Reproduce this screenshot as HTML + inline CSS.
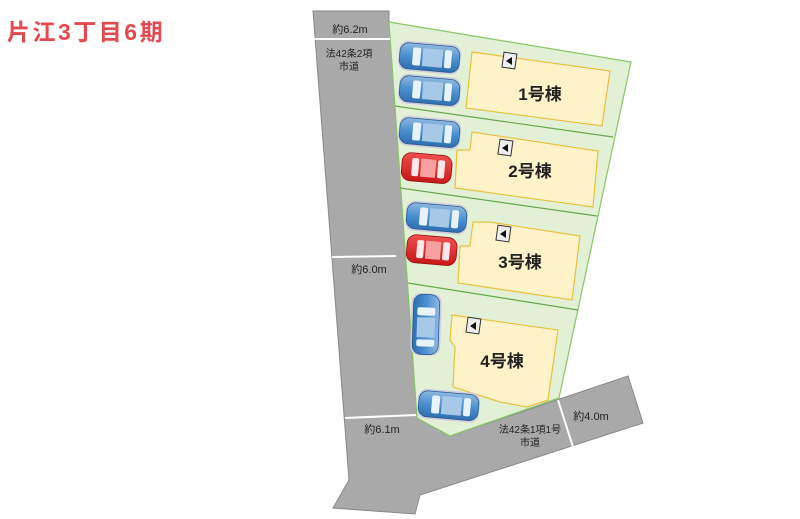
<!DOCTYPE html>
<html><head><meta charset="utf-8"><style>
html,body{margin:0;padding:0;background:#fff;width:800px;height:519px;overflow:hidden}
svg{display:block}
text{font-family:"Liberation Sans","Noto Sans CJK JP",sans-serif}
</style></head><body>
<svg width="800" height="519" viewBox="0 0 800 519" xmlns="http://www.w3.org/2000/svg">
<defs>
<linearGradient id="bl" x1="0" x2="0" y1="0" y2="1"><stop offset="0" stop-color="#8fb8e0"/><stop offset="0.5" stop-color="#4a8fd0"/><stop offset="1" stop-color="#2f6fb0"/></linearGradient>
<linearGradient id="rd" x1="0" x2="0" y1="0" y2="1"><stop offset="0" stop-color="#f05050"/><stop offset="1" stop-color="#c81818"/></linearGradient>
<g id="car"><rect x="0" y="0" width="62" height="30" rx="9" fill="#ccd" /><rect x="1" y="2" width="60" height="26" rx="9" fill="url(#bl)" stroke="#2a5a90" stroke-width="0.8"/><rect x="14" y="6" width="8" height="18" rx="2" fill="#e8f2fb"/><rect x="46" y="6" width="7" height="18" rx="2" fill="#e8f2fb"/><rect x="24" y="6" width="20" height="18" fill="#a8c8e8"/></g>
<g id="rcar"><rect x="0" y="0" width="50" height="28" rx="9" fill="url(#rd)" stroke="#901010" stroke-width="0.8"/><rect x="10" y="5" width="7" height="18" rx="2" fill="#fbe8e8"/><rect x="36" y="5" width="7" height="18" rx="2" fill="#fbe8e8"/><rect x="19" y="5" width="15" height="18" fill="#f8a0a0"/></g>
</defs>
<text x="7" y="40" font-size="23" font-weight="bold" fill="#e34a4f" letter-spacing="2.5">片江3丁目6期</text>
<path d="M313,11 L389,11 L389,22 L417,418 L450,436 L628,376 L643,423 L420,495 L415,514 L333,508 L349,480 Z" fill="#a9a9a9" stroke="#888" stroke-width="1"/>
<path d="M389,22 L631,62 L559,398 L450,436 L417,418 Z" fill="#e2f0d6" stroke="#8ac46a" stroke-width="1.2"/>
<line x1="395" y1="106" x2="613" y2="137" stroke="#6aa84f" stroke-width="1.2"/>
<line x1="400" y1="188" x2="597" y2="216" stroke="#6aa84f" stroke-width="1.2"/>
<line x1="408" y1="283" x2="578" y2="310" stroke="#6aa84f" stroke-width="1.2"/>
<line x1="314" y1="39" x2="390" y2="39" stroke="#fff" stroke-width="2"/>
<line x1="332" y1="257" x2="396" y2="256" stroke="#fff" stroke-width="2"/>
<line x1="345" y1="418" x2="416" y2="415" stroke="#fff" stroke-width="2"/>
<line x1="558" y1="400" x2="573" y2="447" stroke="#fff" stroke-width="2"/>
<g fill="#fdf2c8" stroke="#e8c040" stroke-width="1.2">
<path d="M472,52 L610,71 L602,126 L466,108 Z"/>
<path d="M472,132 L598,151 L593,207 L455,188 L457,150 L470,150 Z"/>
<path d="M490,222 L580,236 L572,300 L458,283 L460,246 L470,246 L473,222 Z"/>
<path d="M452,315 L558,330 L548,400 L527,407 L500,402 L453,387 L455,347 L450,340 Z"/>
</g>
<g fill="#eee" stroke="#333" stroke-width="1">
<rect x="503" y="53" width="13" height="15" transform="rotate(8 509 60)"/>
<rect x="499" y="140" width="13" height="15" transform="rotate(8 505 147)"/>
<rect x="497" y="226" width="13" height="15" transform="rotate(8 503 233)"/>
<rect x="467" y="318" width="13" height="15" transform="rotate(8 473 325)"/>
</g>
<g fill="#111"><path d="M506,61 L512,57 L512,65 Z"/><path d="M502,148 L508,144 L508,152 Z"/><path d="M500,234 L506,230 L506,238 Z"/><path d="M470,326 L476,322 L476,330 Z"/></g>
<g font-size="17" font-weight="bold" fill="#222" text-anchor="middle">
<text x="540" y="100">1号棟</text><text x="530" y="177">2号棟</text><text x="520" y="268">3号棟</text><text x="502" y="367">4号棟</text>
</g>
<use href="#car" transform="translate(400,40) rotate(5)"/>
<use href="#car" transform="translate(400,73) rotate(5)"/>
<use href="#car" transform="translate(400,115) rotate(5)"/>
<use href="#rcar" transform="translate(403,152) rotate(5)"/>
<use href="#car" transform="translate(407,200) rotate(5)"/>
<use href="#rcar" transform="translate(408,234) rotate(5)"/>
<use href="#car" transform="translate(442,294) rotate(92)"/>
<use href="#car" transform="translate(419,388) rotate(5)"/>
<g font-size="11" fill="#222" text-anchor="middle">
<text x="350" y="33">約6.2m</text>
<text x="349" y="57" font-size="10">法42条2項</text><text x="349" y="70" font-size="10">市道</text>
<text x="369" y="273">約6.0m</text>
<text x="382" y="433">約6.1m</text>
<text x="530" y="433" font-size="10">法42条1項1号</text><text x="530" y="446" font-size="10">市道</text>
<text x="591" y="420">約4.0m</text>
</g>
</svg>
</body></html>
